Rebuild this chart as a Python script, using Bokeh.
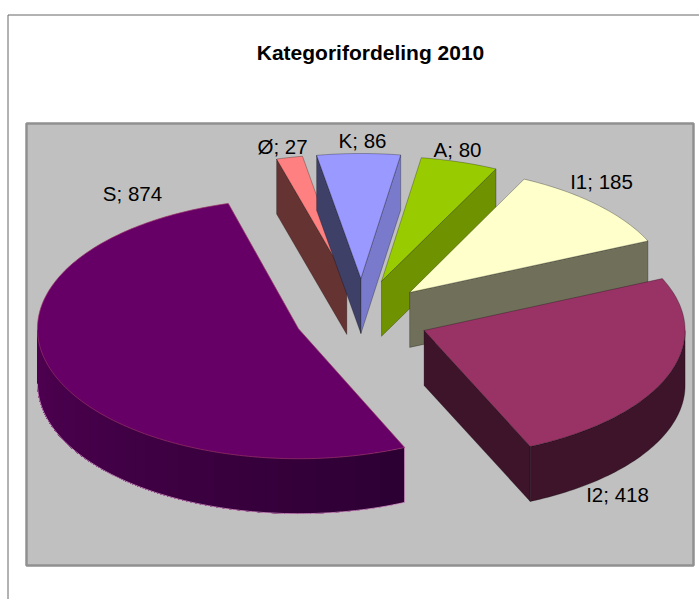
import math
from bokeh.plotting import figure
from bokeh.models import Range1d
from bokeh.core.properties import value
from bokeh.embed import file_html
from bokeh.resources import INLINE

# ---- data ----
CATEGORIES = ["S", "Ø", "K", "A", "I1", "I2"]
VALUES = [874, 27, 86, 80, 185, 418]
TOP_COLORS = ["#660066", "#FF8080", "#9999FF", "#99CC00", "#FFFFCC", "#993366"]
START_FACE_COLORS = ["#4d004d", "#663333", "#3f4068", "#6f9200", "#6f6f5a", "#3d142a"]
END_FACE_COLORS = ["#2a0033", "#663333", "#7a7acc", "#6f9200", "#6f6f5a", "#3d142a"]
WALL_COLORS = ["#4d004d", "#663333", "#7a7acc", "#6f9200", "#6f6f5a", "#3d142a"]
LABEL_X = [132, 282, 362, 457, 601, 617]
LABEL_Y = [193, 146, 140, 149, 181, 494]
TITLE = "Kategorifordeling 2010"

# ---- projection of the exploded 3-D pie ----
FIRST_ANGLE = 156.0      # degrees clockwise from "up"
CX, CY = 361.0, 317.0
RX = 261.0
RY_BY_SLICE = [130.0, 125.0, 125.0, 125.0, 126.0, 127.0]   # perspective
NUDGE_Y = [-2.0, 0.0, 0.0, 1.0, 2.0, -1.0]
EX, EY = 67.0, 39.0
DEPTH = 55.0
FONT = value("Liberation Sans")

W, H = 699, 599
p = figure(width=W, height=H, x_range=Range1d(0, 699), y_range=Range1d(599, 0),
           output_backend="svg", toolbar_location=None, min_border=0,
           outline_line_color=None, background_fill_color="white", border_fill_color="white")
p.axis.visible = False
p.grid.visible = False

# chart frame and grey plot area
p.quad(left=[7.5], right=[720], bottom=[620], top=[14.5], fill_color="white",
       line_color="#666666", line_width=1)
p.quad(left=[26], right=[693], bottom=[565], top=[123], fill_color="#C0C0C0",
       line_color="#909090", line_width=2.5)

total = sum(VALUES)
slices = []
a = FIRST_ANGLE
for i, v in enumerate(VALUES):
    sweep = 360.0 * v / total
    slices.append((i, a % 360, a % 360 + sweep))
    a += sweep


def draw_slice(i, t0, t1):
    ry = RY_BY_SLICE[i]

    def rim(ax, ay, th):
        t = math.radians(th)
        return ax + RX * math.sin(t), ay - ry * math.cos(t)

    mid = math.radians((t0 + t1) / 2)
    ax, ay = CX + EX * math.sin(mid), CY - EY * math.cos(mid) + NUDGE_Y[i]
    edge = "#e0a0d0" if i == 0 else "#000000"
    edge_alpha = 0.45 if i == 0 else 0.28

    # cut faces that turn toward the viewer
    for th, col, show in ((t0, START_FACE_COLORS[i], math.sin(math.radians(t0)) < 0),
                          (t1, END_FACE_COLORS[i], math.sin(math.radians(t1)) > 0)):
        if show and i != 0:
            x, y = rim(ax, ay, th)
            p.patch([ax, ax, x, x], [ay, ay + DEPTH, y + DEPTH, y], fill_color=col,
                    line_color=edge, line_alpha=edge_alpha, line_width=1)

    # outer wall: only the part of the rim that faces the viewer
    lo, hi = max(t0, 90.0), min(t1, 270.0)
    if hi > lo:
        if i == 0:
            steps = 40
            c0 = (0x2c, 0x00, 0x33)
            c1 = (0x50, 0x00, 0x52)
            for k in range(steps):
                u0 = lo + (hi - lo) * k / steps
                f = (k + 0.5) / steps
                col = "#%02x%02x%02x" % tuple(round(c0[j] + (c1[j] - c0[j]) * f) for j in range(3))
                pts = [rim(ax, ay, u0 + (hi - u0) * m / 40) for m in range(41)]
                xs = [q[0] for q in pts] + [q[0] for q in reversed(pts)]
                ys = [q[1] for q in pts] + [q[1] + DEPTH for q in reversed(pts)]
                p.patch(xs, ys, fill_color=col, line_color=None)
            pts = [rim(ax, ay, lo + (hi - lo) * k / 80) for k in range(81)]
            p.line([q[0] for q in pts], [q[1] + DEPTH for q in pts],
                   line_color=edge, line_alpha=0.8, line_width=1)
            xe, ye = rim(ax, ay, lo)
            p.line([xe, xe], [ye, ye + DEPTH], line_color=edge, line_alpha=0.7, line_width=1)
        else:
            pts = [rim(ax, ay, lo + (hi - lo) * k / 60) for k in range(61)]
            xs = [q[0] for q in pts] + [q[0] for q in reversed(pts)]
            ys = [q[1] for q in pts] + [q[1] + DEPTH for q in reversed(pts)]
            p.patch(xs, ys, fill_color=WALL_COLORS[i], line_color=edge,
                    line_alpha=edge_alpha, line_width=1)

    # top surface
    n = max(4, int(t1 - t0))
    pts = [rim(ax, ay, t0 + (t1 - t0) * k / n) for k in range(n + 1)]
    p.patch([ax] + [q[0] for q in pts], [ay] + [q[1] for q in pts],
            fill_color=TOP_COLORS[i], line_color=edge if i else "#993366",
            line_alpha=edge_alpha if i else 0.7, line_width=1)


# painter's order: back slices first
for idx in [1, 2, 3, 4, 5, 0]:
    draw_slice(*slices[idx])

# texts
p.text(x=[370], y=[52], text=[TITLE], text_font=FONT, text_font_style="bold",
       text_font_size="21px", text_align="center", text_baseline="middle", text_color="#000000")
labels = [f"{c}; {v}" for c, v in zip(CATEGORIES, VALUES)]
p.text(x=LABEL_X, y=LABEL_Y, text=labels, text_font=FONT, text_font_size="20.5px",
       text_align="center", text_baseline="middle", text_color="#000000")

open("out.html", "w").write(file_html(p, INLINE))
